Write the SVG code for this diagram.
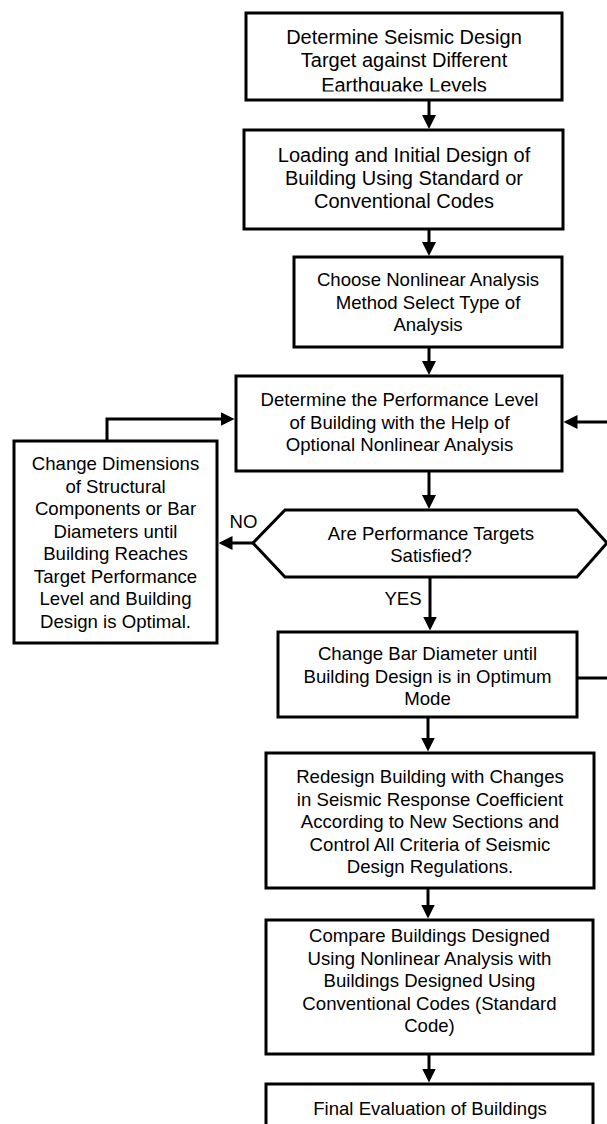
<svg xmlns="http://www.w3.org/2000/svg" width="607" height="1124" viewBox="0 0 607 1124">
  <style>
    .box { fill: #ffffff; stroke: #000000; stroke-width: 3; }
    .conn { fill: none; stroke: #000000; stroke-width: 3; }
    text { font-family: "Liberation Sans", Arial, sans-serif; fill: #000000; text-anchor: middle; font-size: 18.6px; }
    .big { font-size: 20px; }
  </style>
  <defs>
    <marker id="arrow" markerUnits="userSpaceOnUse" markerWidth="14" markerHeight="14" refX="10" refY="7" orient="auto">
      <path d="M0,0 L14,7 L0,14 z" fill="#000000"/>
    </marker>
    <clipPath id="clip1">
      <rect x="246" y="0" width="316" height="91.5"/>
    </clipPath>
  </defs>
  <rect width="607" height="1124" fill="#ffffff"/>

  <g id="connectors">
    <path class="conn" d="M429,100 V125" marker-end="url(#arrow)"/>
    <path class="conn" d="M429,229 V252" marker-end="url(#arrow)"/>
    <path class="conn" d="M429,347 V371" marker-end="url(#arrow)"/>
    <path class="conn" d="M429,471 V505" marker-end="url(#arrow)"/>
    <path class="conn" d="M430,577 V626.5" marker-end="url(#arrow)"/>
    <path class="conn" d="M428,717 V747.5" marker-end="url(#arrow)"/>
    <path class="conn" d="M428,888 V914.5" marker-end="url(#arrow)"/>
    <path class="conn" d="M429,1054 V1078.5" marker-end="url(#arrow)"/>
    <path class="conn" d="M253,543 H222.5" marker-end="url(#arrow)"/>
    <path class="conn" d="M107,441 V419 H230.5" marker-end="url(#arrow)"/>
    <path class="conn" d="M577,678 H612 V422 H567.5" marker-end="url(#arrow)"/>
  </g>

  <g id="n1">
    <rect class="box" x="246" y="13" width="316" height="87"/>
    <g clip-path="url(#clip1)">
      <text class="big" x="404" y="44.3">Determine Seismic Design</text>
      <text class="big" x="404" y="67">Target against Different</text>
      <text class="big" x="404" y="91.5">Earthquake Levels</text>
    </g>
  </g>

  <g id="n2">
    <rect class="box" x="244" y="130" width="319" height="99"/>
    <text class="big" x="404" y="162">Loading and Initial Design of</text>
    <text class="big" x="404" y="185">Building Using Standard or</text>
    <text class="big" x="404" y="208">Conventional Codes</text>
  </g>

  <g id="n3">
    <rect class="box" x="294" y="257" width="268" height="90"/>
    <text x="428" y="286">Choose Nonlinear Analysis</text>
    <text x="428" y="308.5">Method Select Type of</text>
    <text x="428" y="331">Analysis</text>
  </g>

  <g id="n4">
    <rect class="box" x="236" y="376" width="326" height="95"/>
    <text x="399.5" y="406">Determine the Performance Level</text>
    <text x="399.5" y="428.5">of Building with the Help of</text>
    <text x="399.5" y="451">Optional Nonlinear Analysis</text>
  </g>

  <g id="n5">
    <rect class="box" x="14" y="441" width="203" height="202"/>
    <text x="115.5" y="470">Change Dimensions</text>
    <text x="115.5" y="492.5">of Structural</text>
    <text x="115.5" y="515">Components or Bar</text>
    <text x="115.5" y="537.5">Diameters until</text>
    <text x="115.5" y="560">Building Reaches</text>
    <text x="115.5" y="582.5">Target Performance</text>
    <text x="115.5" y="605">Level and Building</text>
    <text x="115.5" y="627.5">Design is Optimal.</text>
  </g>

  <g id="n6">
    <polygon class="box" points="253,543 285,510 577,510 607,543 577,577 285,577"/>
    <text x="431" y="540">Are Performance Targets</text>
    <text x="431" y="562">Satisfied?</text>
  </g>

  <g id="labels">
    <text x="243.5" y="528">NO</text>
    <text x="403" y="605">YES</text>
  </g>

  <g id="n7">
    <rect class="box" x="278" y="632" width="299" height="85"/>
    <text x="427.5" y="660">Change Bar Diameter until</text>
    <text x="427.5" y="682.5">Building Design is in Optimum</text>
    <text x="427.5" y="705">Mode</text>
  </g>

  <g id="n8">
    <rect class="box" x="266" y="753" width="328" height="135"/>
    <text x="430" y="783">Redesign Building with Changes</text>
    <text x="430" y="805.5">in Seismic Response Coefficient</text>
    <text x="430" y="828">According to New Sections and</text>
    <text x="430" y="850.5">Control All Criteria of Seismic</text>
    <text x="430" y="873">Design Regulations.</text>
  </g>

  <g id="n9">
    <rect class="box" x="266" y="920" width="327" height="134"/>
    <text x="429.5" y="942">Compare Buildings Designed</text>
    <text x="429.5" y="964.5">Using Nonlinear Analysis with</text>
    <text x="429.5" y="987">Buildings Designed Using</text>
    <text x="429.5" y="1009.5">Conventional Codes (Standard</text>
    <text x="429.5" y="1032">Code)</text>
  </g>

  <g id="n10">
    <rect class="box" x="266" y="1084" width="327" height="60"/>
    <text x="430" y="1115">Final Evaluation of Buildings</text>
  </g>
</svg>
